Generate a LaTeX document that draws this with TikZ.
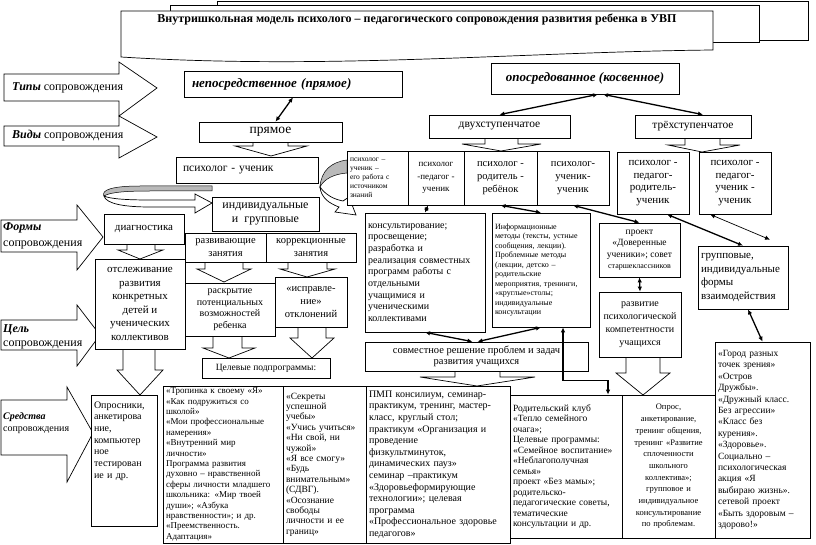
\documentclass[tikz,border=0pt]{standalone}
\usepackage{fontspec}
\setmainfont{Liberation Serif}
\usetikzlibrary{arrows.meta}

\begin{document}
\begin{tikzpicture}[x=1pt,y=-1pt,>={Latex[length=5pt,width=4.5pt]}]
  \tikzset{ box/.style={draw,fill=white,line width=0.7pt,inner sep=1pt,align=center},
    cell/.style={box,align=left,inner xsep=3pt,inner ysep=0.5pt},
    blk/.style={draw,fill=white,line width=0.7pt},
    ribbon/.style={draw,fill=gray!55,line width=0.5pt},
    link/.style={<->,line width=1.3pt},
  }
  \useasboundingbox (0,0) rectangle (816,545);

  % title sheets
  \draw[blk] (217,1) rectangle (808,40);
  \draw[blk] (170,5) rectangle (759,42);
  \draw[blk] (121,11) -- (713,11) -- (713,50)
    .. controls (520,52) and (330,70) .. (121,57) -- cycle;
  \node[font=\bfseries\fontsize{12}{14}\selectfont] (title) at (417,20)
    {Внутришкольная модель психолого – педагогического сопровождения развития ребенка в УВП};

  % big arrows on the left
  \draw[blk] (4,74) -- (119,74) -- (119,62) -- (157,88) -- (119,116) -- (119,101) -- (4,101) -- cycle;
  \draw[blk] (4,126) -- (119,126) -- (119,116) -- (157,137) -- (119,158) -- (119,146) -- (4,146) -- cycle;
  \draw[blk] (1,220) -- (77,220) -- (77,205) -- (103,237) -- (77,270) -- (77,252) -- (1,252) -- cycle;
  \draw[blk] (1,320) -- (77,320) -- (77,305) -- (100,335) -- (77,366) -- (77,350) -- (1,350) -- cycle;
  \draw[blk] (1,400) -- (67,400) -- (67,387) -- (93,433) -- (67,482) -- (67,455) -- (1,455) -- cycle;
  \node[anchor=west,inner sep=1pt,font=\fontsize{12}{14}\selectfont] (tipy) at (11,88) {\textbf{\textit{Типы}} сопровождения};
  \node[anchor=west,inner sep=1pt,font=\fontsize{12}{14}\selectfont] (vidy) at (11,136) {\textbf{\textit{Виды}} сопровождения};
  \node[anchor=west,inner sep=1pt,align=left,font=\fontsize{12}{16}\selectfont] (formy) at (2,236) {\textbf{\textit{Формы}}\\сопровождения};
  \node[anchor=west,inner sep=1pt,align=left,font=\fontsize{12}{13.5}\selectfont] (cel) at (2,337) {\textbf{\textit{Цель}}\\сопровождения};
  \node[anchor=west,inner sep=1pt,align=left,font=\fontsize{10}{12.5}\selectfont] (sredstva) at (2,423) {\textbf{\textit{Средства}}\\сопровождения};

  % small hollow arrows
  \draw[blk] (253,140) -- (253,146) -- (235,146) -- (271,156) -- (307,146) -- (288,146) -- (288,140);
  \draw[blk] (485,136) -- (485,144) -- (462,144) -- (501,151) -- (541,144) -- (518,144) -- (518,136);
  \draw[blk] (685,136) -- (685,145) -- (668,145) -- (702,152) -- (740,145) -- (720,145) -- (720,136);
  \draw[blk] (127,242) -- (127,250) -- (118,250) -- (140,259) -- (163,250) -- (155,250) -- (155,242);
  \draw[blk] (205,260) -- (205,269) -- (197,269) -- (224,282) -- (251,269) -- (243,269) -- (243,260);
  \draw[blk] (288,260) -- (288,269) -- (280,269) -- (307,277) -- (335,269) -- (327,269) -- (327,260);
  \draw[blk] (213,334) -- (213,348) -- (203,348) -- (229,358) -- (255,348) -- (242,348) -- (242,334);
  \draw[blk] (298,325) -- (298,338) -- (290,338) -- (312,358) -- (334,338) -- (326,338) -- (326,325);
  \draw[blk] (123,347) -- (123,370) -- (117,370) -- (140,395) -- (163,370) -- (155,370) -- (155,347);
  \draw[blk] (455,369) -- (455,377) -- (420,377) -- (477,386) -- (535,377) -- (500,377) -- (500,369);
  \draw[blk] (626,355) -- (626,373) -- (616,373) -- (643,395) -- (670,373) -- (660,373) -- (660,355);

  % curved arrows round the first pair
  \draw[ribbon] (212,186) -- (140,186) .. controls (112,186) and (101,190) .. (104,196)
    .. controls (110,192) and (128,191) .. (150,191) -- (212,191) -- cycle;
  \draw[blk] (104,196) .. controls (106,204) and (125,207) .. (150,207) -- (195,207) -- (195,213)
    -- (212,203) -- (195,194) -- (195,200) -- (150,200) .. controls (128,200) and (110,199) .. (104,196) -- cycle;
  \draw[ribbon] (347,160) .. controls (331,162) and (321,171) .. (320,187)
    .. controls (324,179) and (334,174) .. (347,173) -- cycle;
  \draw[blk] (320,187) .. controls (321,197) and (328,203) .. (339,207) -- (335,212) -- (356,215)
    -- (349,197) -- (343,201) .. controls (333,199) and (326,195) .. (320,187) -- cycle;

  % types and kinds
  \node[box,minimum height=26pt,align=left,text width=202pt,inner xsep=8pt,font=\bfseries\itshape\fontsize{13}{15}\selectfont] (nepo) at (293,84) {непосредственное (прямое)};
  \node[box,minimum width=188pt,minimum height=31pt,font=\bfseries\itshape\fontsize{13}{15}\selectfont] (opos) at (585,78.5) {опосредованное (косвенное)};
  \node[box,minimum width=143pt,minimum height=20pt,font=\fontsize{13.5}{15}\selectfont] (pryam) at (270.5,132) {прямое};
  \node[box,minimum width=141pt,minimum height=23pt,font=\fontsize{11.5}{13}\selectfont] (dvuh) at (499.5,126.5) {двухступенчатое};
  \node[box,minimum width=116pt,minimum height=23pt,font=\fontsize{11.5}{13}\selectfont] (treh) at (693,126.5) {трёхступенчатое};

  % who works with whom
  \node[box,minimum height=26pt,align=left,text width=128pt,inner xsep=7pt,font=\fontsize{11.5}{13}\selectfont] (psu) at (247,170) {психолог - ученик};
  \node[cell,text width=55pt,minimum height=54pt,font=\fontsize{7.5}{9}\selectfont] (src) at (377.5,178) {психолог –\\ученик –\\его работа с\\источником\\знаний};
  \node[box,minimum width=56pt,minimum height=54pt,font=\fontsize{9}{12.5}\selectfont] (pedu) at (436,178) {психолог\\-педагог -\\ученик};
  \node[box,minimum width=73pt,minimum height=54pt,font=\fontsize{10.5}{13}\selectfont] (prr) at (500.5,178) {психолог -\\родитель -\\ребёнок};
  \node[box,minimum width=72pt,minimum height=54pt,font=\fontsize{10.5}{13}\selectfont] (puu) at (573,178) {психолог-\\ученик-\\ученик};
  \node[box,minimum width=72pt,minimum height=62pt,font=\fontsize{11}{12.7}\selectfont] (ppru) at (653,183) {психолог -\\педагог-\\родитель-\\ученик};
  \node[box,minimum width=72pt,minimum height=62pt,font=\fontsize{11}{12.7}\selectfont] (ppuu) at (735,183) {психолог -\\педагог-\\ученик -\\ученик};

  % forms and goals
  \node[box,minimum width=107pt,minimum height=34pt,font=\fontsize{12}{14}\selectfont] (indgr) at (265.5,214) {индивидуальные\\и~ групповые};
  \node[box,minimum width=80pt,minimum height=30pt,font=\fontsize{11}{13}\selectfont] (diag) at (144,229) {диагностика};
  \node[box,minimum width=81pt,minimum height=29pt,font=\fontsize{10.5}{12.5}\selectfont] (razv) at (225.5,247.5) {развивающие\\занятия};
  \node[box,minimum width=90pt,minimum height=29pt,font=\fontsize{10.5}{12.5}\selectfont] (korr) at (311,247.5) {коррекционные\\занятия};
  \node[box,minimum width=90pt,minimum height=53pt,font=\fontsize{10}{11.5}\selectfont] (raskr) at (230,309.5) {раскрытие\\потенциальных\\возможностей\\ребенка};
  \node[box,minimum width=72pt,minimum height=50pt,font=\fontsize{10.5}{13}\selectfont] (ispr) at (311,302) {«исправле-\\ние»\\отклонений};
  \node[box,minimum width=128pt,minimum height=20pt,font=\fontsize{9.5}{11}\selectfont] (celev) at (266,368) {Целевые подпрограммы:};
  \node[box,minimum width=90pt,minimum height=90pt,font=\fontsize{11}{13.6}\selectfont] (otsl) at (140,304) {отслеживание\\развития\\конкретных\\детей и\\ученических\\коллективов};
  \node[cell,text width=60pt,text height=12pt,text depth=118pt,font=\fontsize{10}{11.7}\selectfont] (oprosn) at (124,461) {Опросники,\\анкетирова\\ние,\\компьютер\\ное\\тестирован\\ие и др.};

  \node[cell,text width=114pt,minimum height=119pt,font=\fontsize{10}{11.7}\selectfont] (kons) at (425,272.5) {консультирование;\\просвещение;\\разработка и\\реализация совместных\\программ работы с\\отдельными\\учащимися и\\ученическими\\коллективами};
  \node[cell,text width=92pt,minimum height=114pt,font=\fontsize{8}{9.5}\selectfont] (inform) at (541,270) {Информационные\\методы (тексты, устные\\сообщения, лекции).\\Проблемные методы\\(лекции, детско –\\родительские\\мероприятия, тренинги,\\«круглые»столы;\\индивидуальные\\консультации};
  \node[box,minimum width=81pt,minimum height=54pt,font=\fontsize{9.5}{11.5}\selectfont] (proekt) at (639.5,250) {проект\\«Доверенные\\ученики»; совет\\{\fontsize{8}{10}\selectfont старшеклассников}};
  \node[box,minimum width=82pt,minimum height=65pt,font=\fontsize{10}{13}\selectfont] (razvit) at (640,324.5) {развитие\\психологической\\компетентности\\учащихся};
  \node[cell,text width=84pt,minimum height=63pt,font=\fontsize{11}{13.5}\selectfont] (grupp) at (743,277.5) {групповые,\\индивидуальные\\формы\\взаимодействия};
  \node[box,minimum width=223pt,minimum height=29pt,font=\fontsize{10.5}{11.5}\selectfont] (sovm) at (476.5,356.5) {совместное решение проблем и задач\\развития учащихся};

  % means, the table at the bottom
  \node[cell,text width=114pt,minimum height=157pt,font=\fontsize{9}{10.4}\selectfont] (trop) at (223,464.5) {«Тропинка к своему «Я»\\«Как подружиться со\\школой»\\«Мои профессиональные\\намерения»\\«Внутренний мир\\личности»\\Программа развития\\духовно – нравственной\\сферы личности младшего\\школьника: «Мир твоей\\души»; «Азбука\\нравственности»; и др.\\«Преемственность.\\Адаптация»};
  \node[cell,text width=77pt,minimum height=157pt,font=\fontsize{9.5}{10.4}\selectfont] (sekr) at (324.5,464.5) {«Секреты\\успешной\\учебы»\\«Учись учиться»\\«Ни свой, ни\\чужой»\\«Я все смогу»\\«Будь\\внимательным»\\(СДВГ).\\«Осознание\\свободы\\личности и ее\\границ»};
  \node[cell,text width=138pt,minimum height=157pt,font=\fontsize{10}{11.6}\selectfont] (pmp) at (438,464.5) {ПМП консилиум, семинар-\\практикум, тренинг, мастер-\\класс, круглый стол;\\практикум «Организация и\\проведение\\физкультминуток,\\динамических пауз»\\семинар –практикум\\«Здоровьеформирующие\\технологии»; целевая\\программа\\«Профессиональное здоровье\\педагогов»};
  \node[cell,text width=106pt,minimum height=143pt,font=\fontsize{9.5}{10.5}\selectfont] (rodk) at (566,466.5) {Родительский клуб\\«Тепло семейного\\очага»;\\Целевые программы:\\«Семейное воспитание»\\«Неблагополучная\\семья»\\проект «Без мамы»;\\родительско-\\педагогические советы,\\тематические\\консультации и др.};
  \node[box,text width=87pt,inner xsep=3pt,minimum height=143pt,font=\fontsize{8.5}{11.7}\selectfont] (opros) at (668.5,466.5) {Опрос,\\анкетирование,\\тренинг общения,\\тренинг «Развитие\\сплоченности\\школьного\\коллектива»;\\групповое и\\индивидуальное\\консультирование\\по проблемам.};
  \node[cell,text width=89pt,minimum height=196pt,font=\fontsize{9.5}{11.4}\selectfont] (gorod) at (762.5,440) {«Город разных\\точек зрения»\\«Остров\\Дружбы».\\«Дружный класс.\\Без агрессии»\\«Класс без\\курения».\\«Здоровье».\\Социально –\\психологическая\\акция «Я\\выбираю жизнь».\\сетевой проект\\«Быть здоровым –\\здорово!»};

  % the connection between the boxes
  \draw[link] (nepo.south) -- ([xshift=5pt]pryam.north);
  \draw[link] ([xshift=13pt]opos.south) -- (dvuh.north);
  \draw[link] ([xshift=18pt]opos.south) -- ([xshift=10pt]treh.north);
  \draw[link] ([xshift=-8pt]pedu.south) -- (kons.north);
  \draw[link] (prr.south) -- (inform.north);
  \draw[link] (puu.south) -- (proekt.north);
  \draw[link] ([xshift=14pt]ppru.south) -- (grupp.north);
  \draw[link,line width=0.7pt] ([xshift=-25pt]ppuu.south) -- ([xshift=27pt,yshift=6pt]grupp.north);
  \draw[link] (proekt.south) -- (razvit.north);
  \draw[link] ([xshift=5pt]grupp.south) -- (gorod.north);
  \draw[link] (kons.south) -- ([xshift=-4pt]sovm.north);
  \draw[link] (inform.south) -- ([xshift=1pt]sovm.north);
  \draw[link] ([xshift=22pt]inform.south) -- ++(0,53) -| ([xshift=42pt]rodk.north);
\end{tikzpicture}
\end{document}
